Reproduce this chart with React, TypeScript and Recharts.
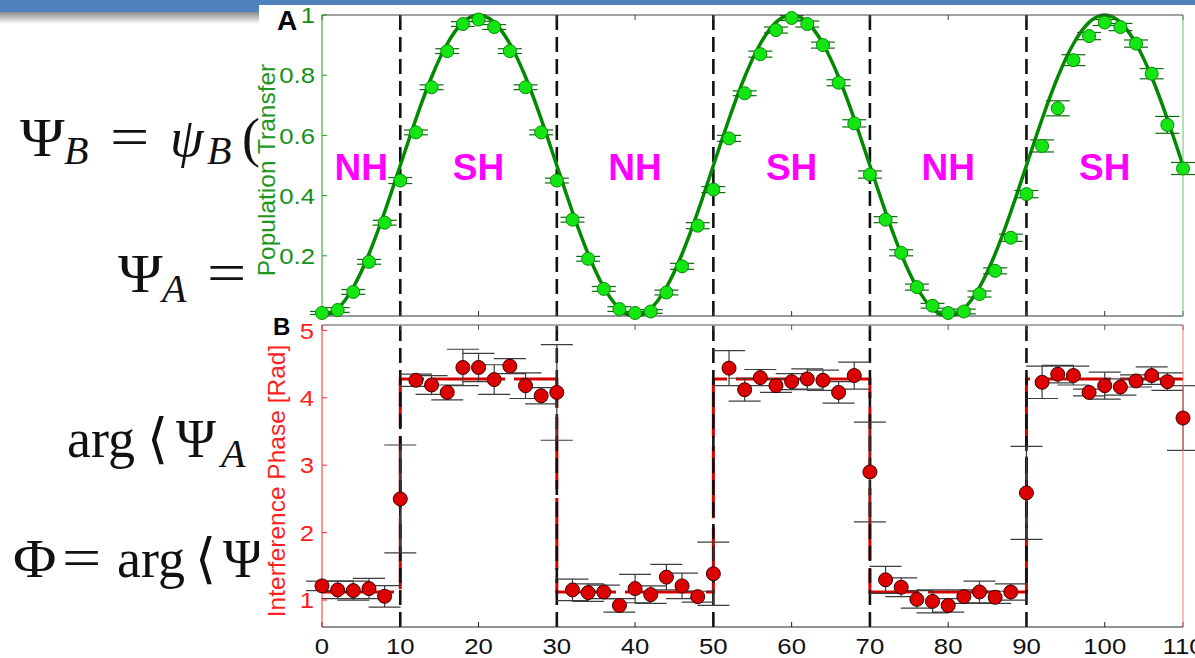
import { ComposedChart, ErrorBar, Line, ReferenceLine, Scatter, XAxis, YAxis } from "recharts";

// sweep positions (detuning steps) shared by both panels
const sweepX = [
  0, 2, 4, 6, 8, 10, 12, 14, 16, 18, 20, 22, 24, 26, 28, 30, 32, 34, 36, 38, 40, 42, 44, 46, 48, 50, 52, 54,
  56, 58, 60, 62, 64, 66, 68, 70, 72, 74, 76, 78, 80, 82, 84, 86, 88, 90, 92, 94, 96, 98, 100, 102, 104, 106,
  108, 110,
];

// panel A: population transfer
const transfer = [
  0.01, 0.02, 0.08, 0.18, 0.31, 0.45, 0.61, 0.76, 0.88, 0.97,
  0.985, 0.96, 0.88, 0.76, 0.61, 0.45, 0.32, 0.19, 0.09, 0.023,
  0.01, 0.015, 0.078, 0.165, 0.3, 0.42, 0.59, 0.74, 0.87, 0.95,
  0.99, 0.97, 0.9, 0.775, 0.64, 0.47, 0.32, 0.21, 0.096, 0.034,
  0.01, 0.015, 0.073, 0.15, 0.26, 0.405, 0.565, 0.69, 0.85, 0.93,
  0.975, 0.96, 0.905, 0.805, 0.635, 0.49,
];
const transferErr = [
  0.005, 0.008, 0.008, 0.008, 0.008, 0.01, 0.008, 0.008, 0.008, 0.008,
  0.006, 0.008, 0.008, 0.008, 0.008, 0.008, 0.008, 0.008, 0.008, 0.008,
  0.005, 0.006, 0.008, 0.01, 0.01, 0.01, 0.01, 0.008, 0.01, 0.01,
  0.008, 0.01, 0.01, 0.01, 0.012, 0.012, 0.01, 0.01, 0.01, 0.008,
  0.006, 0.008, 0.01, 0.01, 0.012, 0.012, 0.02, 0.025, 0.018, 0.012,
  0.01, 0.012, 0.012, 0.017, 0.028, 0.02,
];
const fitCurve = [
  0, 0.0245, 0.0955, 0.2061, 0.3455, 0.5, 0.6545, 0.7939, 0.9045, 0.9755,
  1, 0.9755, 0.9045, 0.7939, 0.6545, 0.5, 0.3455, 0.2061, 0.0955, 0.0245,
  0, 0.0245, 0.0955, 0.2061, 0.3455, 0.5, 0.6545, 0.7939, 0.9045, 0.9755,
  1, 0.9755, 0.9045, 0.7939, 0.6545, 0.5, 0.3455, 0.2061, 0.0955, 0.0245,
  0, 0.0245, 0.0955, 0.2061, 0.3455, 0.5, 0.6545, 0.7939, 0.9045, 0.9755,
  1, 0.9755, 0.9045, 0.7939, 0.6545, 0.5,
];

// panel B: interference phase
const phase = [
  1.21, 1.15, 1.14, 1.17, 1.055, 2.5, 4.26, 4.19, 4.08, 4.45,
  4.45, 4.27, 4.47, 4.18, 4.03, 4.08, 1.15, 1.11, 1.12, 0.92,
  1.17, 1.08, 1.34, 1.21, 1.05, 1.39, 4.44, 4.12, 4.3, 4.18,
  4.24, 4.28, 4.26, 4.08, 4.33, 2.9, 1.3, 1.19, 1.01, 0.98,
  0.92, 1.05, 1.12, 1.04, 1.12, 2.59, 4.23, 4.35, 4.33, 4.08,
  4.18, 4.16, 4.25, 4.33, 4.24, 3.7,
];
const phaseErr = [
  0.07, 0.13, 0.14, 0.15, 0.16, 0.8, 0.09, 0.14, 0.11, 0.27,
  0.21, 0.22, 0.11, 0.19, 0.12, 0.71, 0.16, 0.13, 0.1, 0.1,
  0.21, 0.13, 0.19, 0.19, 0.08, 0.47, 0.26, 0.17, 0.12, 0.1,
  0.12, 0.15, 0.15, 0.16, 0.2, 0.74, 0.2, 0.14, 0.13, 0.17,
  0.1, 0.1, 0.16, 0.09, 0.12, 0.69, 0.24, 0.13, 0.14, 0.05,
  0.2, 0.12, 0.09, 0.13, 0.13, 0.48,
];
const stepX = [0, 10, 30, 50, 70, 90, 110];
const stepPhase = [1.12, 4.28, 1.12, 4.28, 1.12, 4.28, 4.28];

const boundaries = [10, 30, 50, 70, 90];
const regionX = [5, 20, 40, 60, 80, 100];
const regionNames = ["NH", "SH", "NH", "SH", "NH", "SH"];

const xTicks = [0, 10, 20, 30, 40, 50, 60, 70, 80, 90, 100, 110];
const transferTicks = [0, 0.2, 0.4, 0.6, 0.8, 1];
const phaseTicks = [1, 2, 3, 4, 5];

const FONT = "Liberation Sans, Arial, sans-serif";
const MATH = "Liberation Serif, DejaVu Serif, serif";

const rowsA = sweepX.map((x, i) => ({ x, transfer: transfer[i], transferErr: transferErr[i], fit: fitCurve[i] }));
const rowsB = sweepX.map((x, i) => ({ x, phase: phase[i], phaseErr: phaseErr[i] }));
const stepRows = stepX.map((x, i) => ({ x, step: stepPhase[i] }));
const regionRows = regionX.map((x, i) => ({ x, y: 0.5, name: regionNames[i] }));

const noLabel = () => <g />;

// the original figure's tick text is slightly stretched sideways
const xTickLabel = (p: any) => (
  <text transform={`translate(${p.x},${p.y}) scale(1.12,1)`} textAnchor="middle" dy="0.71em" fontFamily={FONT} fontSize={23} fill="#111">
    {p.payload.value}
  </text>
);
const yTickLabel = (color: string) => (p: any) => (
  <text transform={`translate(${p.x},${p.y}) scale(1.12,1)`} textAnchor="end" dy="0.36em" fontFamily={FONT} fontSize={23} fill={color}>
    {p.payload.value}
  </text>
);

const greenDot = (p: any) => <circle cx={p.cx} cy={p.cy} r={6.5} fill="#14e614" stroke="#0a8a0a" strokeWidth={1} />;
const redDot = (p: any) => <circle cx={p.cx} cy={p.cy} r={7} fill="#dd0000" stroke="#3a0000" strokeWidth={1} />;
const regionText = (p: any) => (
  <text x={p.cx} y={p.cy} dy={14} textAnchor="middle" fontFamily={FONT} fontWeight="bold" fontSize={37} fill="#ff00ff">
    {p.payload.name}
  </text>
);

const MathText = () => (
  <g fontFamily={MATH} fill="#111">
    <text x={20} y={156} fontSize={54} transform="translate(20,0) scale(1.12,1) translate(-20,0)">Ψ</text>
    <text x={64} y={164} fontSize={40} fontStyle="italic">B</text>
    <text x={110} y={156} fontSize={58} transform="translate(110,0) scale(1.2,1) translate(-110,0)">=</text>
    <text x={170} y={156} fontSize={54} fontStyle="italic">ψ</text>
    <text x={207} y={164} fontSize={40} fontStyle="italic">B</text>
    <text x={242} y={156} fontSize={54}>(</text>

    <text x={118} y={292} fontSize={54} transform="translate(118,0) scale(1.12,1) translate(-118,0)">Ψ</text>
    <text x={162} y={302} fontSize={40} fontStyle="italic">A</text>
    <text x={207} y={292} fontSize={58} transform="translate(207,0) scale(1.2,1) translate(-207,0)">=</text>

    <text x={67} y={457} fontSize={54}>arg</text>
    <text x={147} y={457} fontSize={54}>⟨</text>
    <text x={176} y={457} fontSize={54}>Ψ</text>
    <text x={221} y={467} fontSize={40} fontStyle="italic">A</text>

    <text x={13} y={577} fontSize={54} transform="translate(13,0) scale(1.1,1) translate(-13,0)">Φ</text>
    <text x={62} y={577} fontSize={58} transform="translate(62,0) scale(1.2,1) translate(-62,0)">=</text>
    <text x={117} y={577} fontSize={54}>arg</text>
    <text x={195} y={577} fontSize={54}>⟨</text>
    <text x={223} y={577} fontSize={54}>Ψ</text>
  </g>
);

const App = () => {
  return (
    <div style={{ position: "absolute", left: 0, top: 0, width: 1195, height: 658, background: "#fff", overflow: "hidden" }}>
      <svg width={1195} height={658} style={{ position: "absolute", left: 0, top: 0 }}>
        <defs>
          <linearGradient id="shade" x1="0" y1="0" x2="0" y2="1">
            <stop offset="0" stopColor="#8a8a8a" />
            <stop offset="1" stopColor="#ffffff" />
          </linearGradient>
        </defs>
        <rect x={0} y={12} width={1195} height={12} fill="url(#shade)" />
        <rect x={0} y={0} width={1195} height={12} fill="#4f81bd" />
        <MathText />
        <rect x={259} y={5} width={936} height={653} fill="#fff" />
      </svg>

      <div style={{ position: "absolute", left: 0, top: 0 }}>
        <ComposedChart width={1195} height={322} data={rowsA} margin={{ top: 14, right: 11, bottom: 5, left: 262 }}>
          <XAxis dataKey="x" type="number" domain={[0, 110]} ticks={xTicks} height={1} stroke="#333" tickSize={-5} tick={noLabel} />
          <XAxis xAxisId="top" orientation="top" dataKey="x" type="number" domain={[0, 110]} ticks={xTicks} height={1} stroke="#444" tickSize={-5} tick={noLabel} />
          <YAxis type="number" domain={[0, 1]} ticks={transferTicks} width={60} stroke="#1e9e1e" tickSize={-5} tickMargin={12}
            tick={yTickLabel("#169016")} />
          <YAxis yAxisId="r" orientation="right" type="number" domain={[0, 1]} ticks={transferTicks} width={1} stroke="#6cc06c" tickSize={-5} tick={noLabel} />
          {boundaries.map((b) => (
            <ReferenceLine key={b} x={b} stroke="#111" strokeWidth={2.6} strokeDasharray="15 7" />
          ))}
          <Line dataKey="fit" type="natural" stroke="#008a00" strokeWidth={3.5} dot={false} isAnimationActive={false} />
          <Scatter dataKey="transfer" shape={greenDot} isAnimationActive={false}>
            <ErrorBar dataKey="transferErr" direction="y" width={12} stroke="#0b6b0b" strokeWidth={1.2} />
          </Scatter>
          <Scatter data={regionRows} dataKey="y" shape={regionText} isAnimationActive={false} />
        </ComposedChart>
      </div>

      <div style={{ position: "absolute", left: 0, top: 316 }}>
        <ComposedChart width={1195} height={342} data={rowsB} margin={{ top: 8, right: 11, bottom: 1, left: 262 }}>
          <XAxis dataKey="x" type="number" domain={[0, 110]} ticks={xTicks} height={30} stroke="#222" tickSize={-5} tickMargin={16}
            tick={xTickLabel} />
          <XAxis xAxisId="top" orientation="top" dataKey="x" type="number" domain={[0, 110]} ticks={xTicks} height={1} stroke="#555" tickSize={-5} tick={noLabel} />
          <YAxis type="number" domain={[0.6, 5.08]} ticks={phaseTicks} width={60} stroke="#ff2a2a" tickSize={-5} tickMargin={13}
            tick={yTickLabel("#ff1f1f")} />
          <YAxis yAxisId="r" orientation="right" type="number" domain={[0.6, 5.08]} ticks={phaseTicks} width={1} stroke="#ff7070" tickSize={-5} tick={noLabel} />
          <Line data={stepRows} dataKey="step" type="stepAfter" stroke="#d40000" strokeWidth={3} strokeDasharray="72 9" dot={false} isAnimationActive={false} />
          {boundaries.map((b) => (
            <ReferenceLine key={b} x={b} stroke="#111" strokeWidth={2.6} strokeDasharray="15 7" />
          ))}
          <Scatter dataKey="phase" shape={redDot} isAnimationActive={false}>
            <ErrorBar dataKey="phaseErr" direction="y" width={16} stroke="#3c3c3c" strokeWidth={1.2} />
          </Scatter>
        </ComposedChart>
      </div>

      <svg width={1195} height={658} style={{ position: "absolute", left: 0, top: 0, pointerEvents: "none" }}>
        <text x={277} y={30} fontFamily={FONT} fontWeight="bold" fontSize={28} fill="#000">A</text>
        <text x={273} y={335} fontFamily={FONT} fontWeight="bold" fontSize={24} fill="#000">B</text>
        <text transform="translate(275,170) rotate(-90)" textAnchor="middle" fontFamily={FONT} fontSize={24.5} fill="#1e961e">
          Population Transfer
        </text>
        <text transform="translate(285,481) rotate(-90)" textAnchor="middle" fontFamily={FONT} fontSize={24.5} fill="#ff1f1f">
          Interference Phase [Rad]
        </text>
      </svg>
    </div>
  );
};

export default App;
